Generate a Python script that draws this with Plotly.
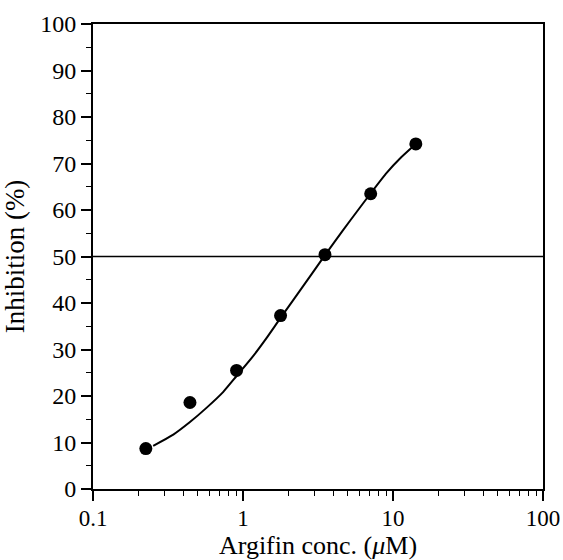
import plotly.graph_objects as go

# Measured data points
conc = [0.225, 0.443, 0.906, 1.78, 3.52, 7.1, 14.2]
inhibition = [8.7, 18.6, 25.5, 37.3, 50.4, 63.5, 74.2]

# Fitted curve
curve_x = [0.252, 0.343, 0.443, 0.573, 0.739, 0.906, 1.15, 1.43, 1.78, 2.39,
           3.52, 4.11, 5.2, 7.1, 9.07, 11.3, 13.3]
curve_y = [9.3, 11.7, 14.4, 17.5, 20.9, 24.3, 28.3, 32.4, 36.8, 42.6,
           50.3, 53.3, 57.8, 63.6, 68.0, 71.3, 73.4]

ref_level = 50
x_ticks = [0.1, 1, 10, 100]
x_tick_text = ["0.1", "1", "10", "100"]
y_ticks = [0, 10, 20, 30, 40, 50, 60, 70, 80, 90, 100]
x_minor = [m * d for d in (0.1, 1, 10) for m in range(2, 10)]
y_minor = [5, 15, 25, 35, 45, 55, 65, 75, 85, 95]

font_family = "Liberation Serif, Times New Roman, serif"

fig = go.Figure()
fig.add_trace(go.Scatter(x=curve_x, y=curve_y, mode="lines",
                         line=dict(color="black", width=2, shape="spline", smoothing=0.6),
                         showlegend=False, hoverinfo="skip"))
fig.add_trace(go.Scatter(x=conc, y=inhibition, mode="markers",
                         marker=dict(color="black", size=13),
                         showlegend=False))
fig.add_hline(y=ref_level, line=dict(color="black", width=1.6))

fig.update_layout(
    width=563, height=560,
    margin=dict(l=93, r=20, t=24, b=71),
    paper_bgcolor="white", plot_bgcolor="white",
    font=dict(family=font_family, size=24, color="black"),
)
fig.update_xaxes(
    type="log", range=[-1, 2], automargin=False,
    tickvals=x_ticks, ticktext=x_tick_text,
    ticks="outside", ticklen=10, tickwidth=1.6, tickcolor="black",
    minor=dict(tickvals=x_minor, ticks="outside", ticklen=5, tickwidth=1.4,
               tickcolor="black", showgrid=False),
    showline=True, linecolor="black", linewidth=2, mirror=True,
    showgrid=False, zeroline=False, ticklabeloverflow="allow",
    ticklabelstandoff=-3,
    tickfont=dict(size=23),
    title=dict(text="Argifin conc. (<i>μ</i>M)", font=dict(size=26)),
)
fig.update_yaxes(
    range=[0, 100], automargin=False,
    tickvals=y_ticks,
    ticks="outside", ticklen=10, tickwidth=1.6, tickcolor="black",
    minor=dict(tickvals=y_minor, ticks="outside", ticklen=5, tickwidth=1.4,
               tickcolor="black", showgrid=False),
    showline=True, linecolor="black", linewidth=2, mirror=True,
    showgrid=False, zeroline=False,
    tickfont=dict(size=24),
    title=dict(text="Inhibition (%)", font=dict(size=27)),
)

fig.write_html("out.html", config={"displayModeBar": False},
               post_script="document.body.style.margin='0';")
